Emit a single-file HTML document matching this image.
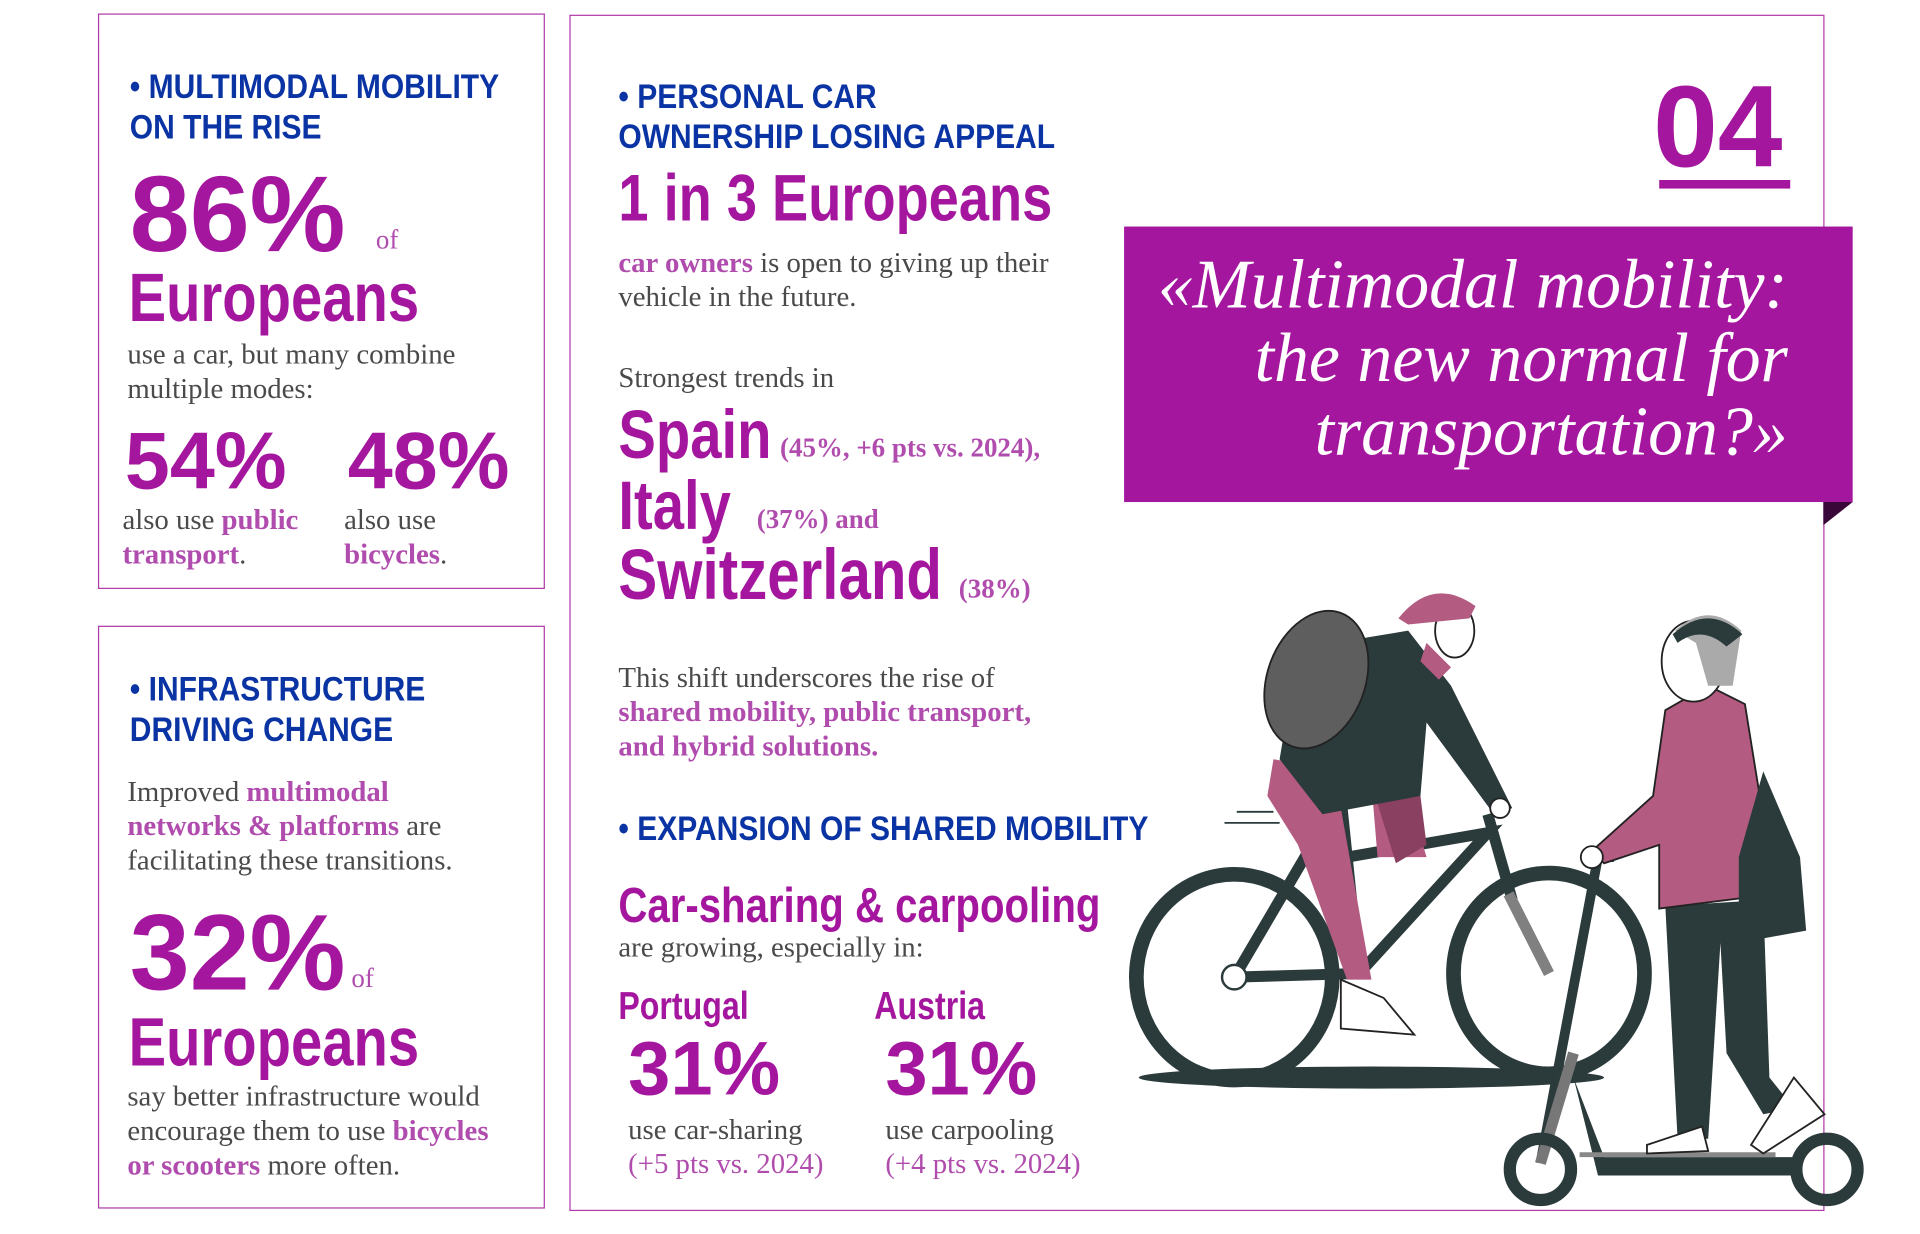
<!DOCTYPE html>
<html><head><meta charset="utf-8">
<style>
html,body{margin:0;padding:0;background:#fff;}
body{width:1920px;height:1233px;overflow:hidden;position:relative;}
#w{position:absolute;left:0;top:0;width:1570px;height:1008px;transform:scale(1.2245);transform-origin:0 0;}
.a{position:absolute;white-space:nowrap;}
.n{transform:scaleX(.82);transform-origin:0 0;}
.hn{transform:scaleX(.875);transform-origin:0 0;}
.box{position:absolute;border:1.5px solid #b03aa8;box-sizing:border-box;}
.h{font-family:"Liberation Sans",sans-serif;font-weight:bold;font-size:28px;line-height:33px;color:#0a33a3;}
.big{font-family:"Liberation Sans",sans-serif;font-weight:bold;color:#a5169f;line-height:1;}
.t{font-family:"Liberation Serif",serif;font-size:23.5px;line-height:28px;color:#4a4a4a;}
.t b,.pk{color:#b04cad;font-weight:bold;}
.sm{font-family:"Liberation Serif",serif;font-size:22px;color:#b04cad;font-weight:bold;line-height:1;}
.of{font-family:"Liberation Serif",serif;font-size:22px;color:#b04cad;line-height:1;}
</style></head><body><div id="w">

<div class="box" style="left:80px;top:11px;width:365px;height:470px;"></div>
<div class="box" style="left:80px;top:511px;width:365px;height:476px;"></div>
<div class="box" style="left:465px;top:12px;width:1025px;height:977px;"></div>

<div class="a h hn" style="left:106px;top:54px;">• MULTIMODAL MOBILITY<br>ON THE RISE</div>
<div class="a big" style="left:106px;top:131px;font-size:88px;">86%</div>
<div class="a of" style="left:307px;top:185px;">of</div>
<div class="a big n" style="left:105px;top:215px;font-size:56px;">Europeans</div>
<div class="a t" style="left:104px;top:276px;">use a car, but many combine<br>multiple modes:</div>
<div class="a big" style="left:102px;top:343px;font-size:66px;">54%</div>
<div class="a big" style="left:284px;top:343px;font-size:66px;">48%</div>
<div class="a t" style="left:100px;top:411px;">also use <b>public</b><br><b>transport</b>.</div>
<div class="a t" style="left:281px;top:411px;">also use<br><b>bicycles</b>.</div>

<div class="a h hn" style="left:106px;top:546px;">• INFRASTRUCTURE<br>DRIVING CHANGE</div>
<div class="a t" style="left:104px;top:633px;">Improved <b>multimodal</b><br><b>networks &amp; platforms</b> are<br>facilitating these transitions.</div>
<div class="a big" style="left:106px;top:734px;font-size:88px;">32%</div>
<div class="a of" style="left:287px;top:788px;">of</div>
<div class="a big n" style="left:105px;top:823px;font-size:56px;">Europeans</div>
<div class="a t" style="left:104px;top:882px;">say better infrastructure would<br>encourage them to use <b>bicycles</b><br><b>or scooters</b> more often.</div>

<div class="a h hn" style="left:505px;top:62px;">• PERSONAL CAR<br>OWNERSHIP LOSING APPEAL</div>
<div class="a big n" style="left:505px;top:135px;font-size:54px;">1 in 3 Europeans</div>
<div class="a t" style="left:505px;top:201px;"><b>car owners</b> is open to giving up their<br>vehicle in the future.</div>
<div class="a t" style="left:505px;top:295px;">Strongest trends in</div>
<div class="a big n" style="left:505px;top:327px;font-size:56px;">Spain</div>
<div class="a sm" style="left:637px;top:355px;">(45%, +6 pts vs. 2024),</div>
<div class="a big n" style="left:505px;top:385px;font-size:56px;">Italy</div>
<div class="a sm" style="left:618px;top:413px;">(37%) and</div>
<div class="a big n" style="left:505px;top:441px;font-size:58px;">Switzerland</div>
<div class="a sm" style="left:783px;top:470px;">(38%)</div>
<div class="a t" style="left:505px;top:540px;">This shift underscores the rise of<br><b>shared mobility, public transport,</b><br><b>and hybrid solutions.</b></div>
<div class="a h hn" style="left:505px;top:660px;">• EXPANSION OF SHARED MOBILITY</div>
<div class="a big n" style="left:505px;top:720px;font-size:40px;">Car-sharing &amp; carpooling</div>
<div class="a t" style="left:505px;top:760px;">are growing, especially in:</div>
<div class="a big n" style="left:505px;top:805px;font-size:32px;">Portugal</div>
<div class="a big n" style="left:714px;top:805px;font-size:32px;">Austria</div>
<div class="a big" style="left:513px;top:843px;font-size:62px;">31%</div>
<div class="a big" style="left:723px;top:843px;font-size:62px;">31%</div>
<div class="a t" style="left:513px;top:909px;">use car-sharing<br><span class="pk" style="font-weight:normal">(+5 pts vs. 2024)</span></div>
<div class="a t" style="left:723px;top:909px;">use carpooling<br><span class="pk" style="font-weight:normal">(+4 pts vs. 2024)</span></div>

<div class="a big" style="left:1350px;top:57px;font-size:95px;">04</div>
<div class="a" style="left:1355px;top:147px;width:107px;height:7px;background:#a5169f;"></div>

<div class="a" style="left:918px;top:185px;width:595px;height:225px;background:#a5169f;"></div>
<svg class="a" style="left:1489px;top:410px;" width="25" height="20"><polygon points="0,0 24,0 0,19" fill="#3a0838"/></svg>
<div class="a" style="right:110px;top:203px;text-align:right;font-family:'Liberation Serif',serif;font-style:italic;font-size:57px;line-height:60px;color:#fff;">«Multimodal mobility:<br>the new normal for<br>transportation?»</div>

<svg class="a" style="left:0;top:0;" width="1570" height="1008">
 <ellipse cx="1120" cy="880" rx="190" ry="9" fill="#2b3a3b"/>
 <g fill="none" stroke="#2b3a3b">
  <ellipse cx="1008" cy="798" rx="80" ry="84" stroke-width="12"/>
  <ellipse cx="1265" cy="795" rx="78" ry="82" stroke-width="12"/>
  <polyline points="1008,798 1110,795 1095,650 1008,798" stroke-width="9"/>
  <polyline points="1110,795 1215,680 1100,700" stroke-width="9"/>
  <line x1="1215" y1="665" x2="1235" y2="735" stroke-width="9"/>
  <line x1="1000" y1="672" x2="1045" y2="672" stroke-width="1.5"/>
  <line x1="1010" y1="663" x2="1040" y2="663" stroke-width="1.5"/>
 </g>
 <line x1="1232" y1="730" x2="1265" y2="795" stroke="#808080" stroke-width="9"/>
 <circle cx="1008" cy="798" r="10" fill="#fff" stroke="#2b3a3b" stroke-width="2"/>
 <path d="M1040 620 L1100 630 L1150 650 L1165 700 L1125 700 L1120 640 L1095 660 L1120 800 L1100 800 L1060 690 L1035 650 Z" fill="#b35b80"/>
 <path d="M1120 640 L1160 650 L1165 690 L1140 705 Z" fill="#8a4060"/>
 <path d="M1060 530 L1150 515 L1185 560 L1235 660 L1220 665 L1165 590 L1160 650 L1080 665 L1045 620 Z" fill="#2b3a3b"/>
 <ellipse cx="1075" cy="555" rx="40" ry="58" transform="rotate(20 1075 555)" fill="#5e5e5e" stroke="#222" stroke-width="1.5"/>
 <ellipse cx="1188" cy="515" rx="16" ry="22" fill="#fff" stroke="#222" stroke-width="1.5"/>
 <path d="M1142 505 Q1170 470 1205 495 L1200 505 L1150 510 Z" fill="#b35b80"/>
 <path d="M1165 525 L1185 545 L1175 555 L1160 540 Z" fill="#b35b80"/>
 <path d="M1095 800 L1130 815 L1155 845 L1095 840 Z" fill="#fff" stroke="#222" stroke-width="1.5"/>
 <circle cx="1225" cy="660" r="8" fill="#fff" stroke="#222" stroke-width="1.5"/>
 <line x1="1305" y1="700" x2="1258" y2="950" stroke="#2b3a3b" stroke-width="8"/>
 <line x1="1285" y1="860" x2="1258" y2="950" stroke="#777" stroke-width="9"/>
 <line x1="1292" y1="702" x2="1318" y2="702" stroke="#2b3a3b" stroke-width="4"/>
 <path d="M1285 880 L1310 945 L1470 945 L1470 960 L1305 960 Z" fill="#2b3a3b"/>
 <line x1="1290" y1="943" x2="1450" y2="943" stroke="#888" stroke-width="4"/>
 <circle cx="1258" cy="955" r="25" fill="none" stroke="#2b3a3b" stroke-width="10"/>
 <circle cx="1492" cy="955" r="25" fill="none" stroke="#2b3a3b" stroke-width="10"/>
 <path d="M1360 740 L1440 735 L1445 880 L1465 905 L1440 910 L1410 860 L1405 770 L1395 930 L1370 930 Z" fill="#2b3a3b"/>
 <path d="M1360 580 L1395 560 L1425 575 L1450 730 L1355 742 L1355 690 L1310 705 L1300 695 L1350 650 Z" fill="#b35b80" stroke="#222" stroke-width="1.5"/>
 <path d="M1440 630 L1470 700 L1475 760 L1420 770 L1420 700 Z" fill="#2b3a3b"/>
 <circle cx="1300" cy="700" r="9" fill="#fff" stroke="#222" stroke-width="1.5"/>
 <ellipse cx="1383" cy="540" rx="26" ry="33" fill="#fff" stroke="#222" stroke-width="1.5"/>
 <path d="M1368 515 Q1395 490 1422 515 L1415 560 L1395 560 L1385 525 Z" fill="#aaa"/>
 <path d="M1366 518 Q1395 492 1423 518 L1410 528 Q1390 510 1370 525 Z" fill="#2b3a3b"/>
 <path d="M1345 935 L1390 920 L1395 940 L1345 942 Z" fill="#fff" stroke="#222" stroke-width="1.5"/>
 <path d="M1430 935 L1465 880 L1490 910 L1440 942 Z" fill="#fff" stroke="#222" stroke-width="1.5"/>
</svg>
</div></body></html>
